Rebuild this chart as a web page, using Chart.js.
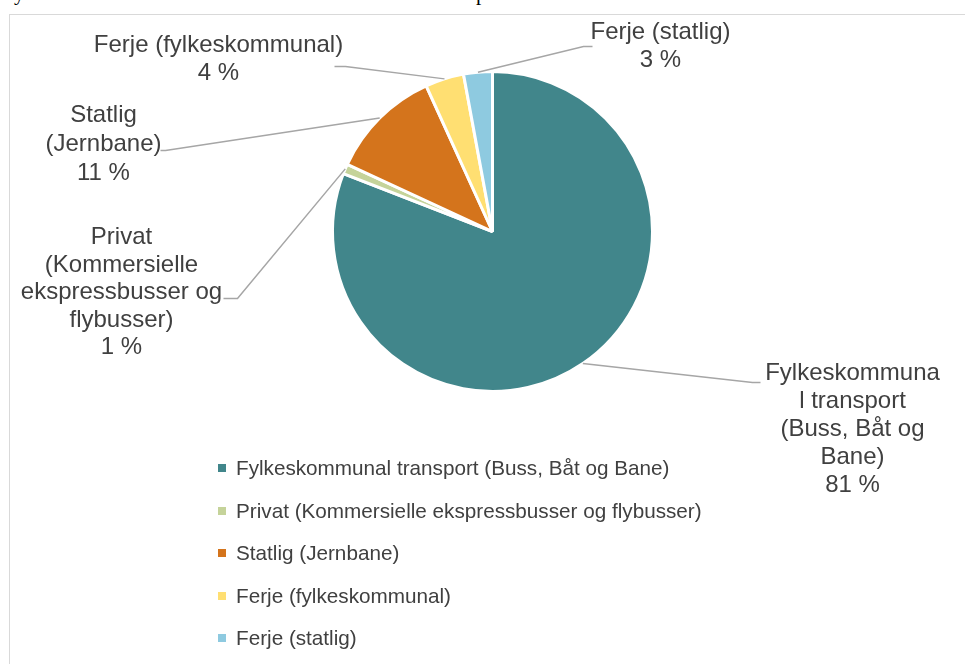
<!DOCTYPE html>
<html>
<head>
<meta charset="utf-8">
<script src="https://cdn.jsdelivr.net/npm/chart.js@4"></script>
<style>
  body { margin: 0; background: #fff; font-family: "Liberation Sans", Arial, sans-serif; overflow: hidden; }
  .frag { position: absolute; top: -17px; font: 21px/20px "Liberation Serif", "Times New Roman", serif; color: #000; }
  #frame { position: absolute; left: 9px; top: 14px; width: 1000px; height: 700px; border: 1px solid #d9d9d9; }
  #pie { position: absolute; left: 0; top: 0; }
  #legend { position: absolute; left: 218px; top: 453px; color: #404040; font-size: 20.7px; }
  #legend div { height: 42.5px; line-height: 30px; white-space: nowrap; }
  #legend span.box { display: inline-block; width: 8px; height: 8px; margin-right: 10px; vertical-align: 3px; }
</style>
</head>
<body>
<div class="frag" style="left:14px">y</div>
<div class="frag" style="left:476px">p</div>
<div id="frame"></div>
<canvas id="pie" width="965" height="664"></canvas>
<div id="legend"></div>
<script>
// kategorier og andeler (prosent)
var categories = [
    'Fylkeskommunal transport (Buss, Båt og Bane)',
    'Privat (Kommersielle ekspressbusser og flybusser)',
    'Statlig (Jernbane)',
    'Ferje (fylkeskommunal)',
    'Ferje (statlig)'
];
var shares = [80.9, 1.0, 11.3, 3.9, 2.9];
var colors = ['#41868b', '#c5d39a', '#d4741c', '#ffdf72', '#8ecae0'];

// teksten på etikettene, brutt som i originalen
var labelText = [
    ['Fylkeskommuna', 'l transport', '(Buss, Båt og', 'Bane)'],
    ['Privat', '(Kommersielle', 'ekspressbusser og', 'flybusser)'],
    ['Statlig', '(Jernbane)'],
    ['Ferje (fylkeskommunal)'],
    ['Ferje (statlig)']
];

// plassering av etiketter i forhold til sentrum: knekkpunkt, linjeslutt, tekst
var labelLayout = [
    { ex: 260, ey: 151, hx: 268, tx: 360, ty: 142, lh: 28 },
    { ex: -255, ey: 67, hx: -269, tx: -371, ty: 6, lh: 27.5 },
    { ex: -327, ey: -81, hx: -332, tx: -389, ty: -116, lh: 29 },
    { ex: -147, ey: -165, hx: -158, tx: -274, ty: -186, lh: 28 },
    { ex: 91, ey: -185, hx: 100, tx: 168, ty: -199, lh: 28 }
];

var total = shares.reduce(function (a, b) { return a + b; }, 0);

var dataLabels = {
    id: 'dataLabels',
    afterDraw: function (chart) {
        var ctx = chart.ctx;
        var arcs = chart.getDatasetMeta(0).data;
        ctx.save();
        arcs.forEach(function (arc, i) {
            var p = arc.getProps(['x', 'y', 'startAngle', 'endAngle', 'outerRadius']);
            var mid = (p.startAngle + p.endAngle) / 2;
            var lay = labelLayout[i];
            ctx.strokeStyle = '#a6a6a6';
            ctx.lineWidth = 1.5;
            ctx.beginPath();
            ctx.moveTo(p.x + Math.cos(mid) * p.outerRadius, p.y + Math.sin(mid) * p.outerRadius);
            ctx.lineTo(p.x + lay.ex, p.y + lay.ey);
            ctx.lineTo(p.x + lay.hx, p.y + lay.ey);
            ctx.stroke();

            var lines = labelText[i].concat([Math.round(shares[i] / total * 100) + ' %']);
            ctx.fillStyle = '#404040';
            ctx.font = '24px "Liberation Sans", Arial, sans-serif';
            ctx.textAlign = 'center';
            ctx.textBaseline = 'middle';
            lines.forEach(function (t, j) {
                ctx.fillText(t, p.x + lay.tx, p.y + lay.ty + j * lay.lh);
            });
        });
        ctx.restore();
    }
};

var chart = new Chart(document.getElementById('pie').getContext('2d'), {
    type: 'pie',
    data: {
        labels: categories,
        datasets: [{
            data: shares,
            backgroundColor: colors,
            borderColor: '#ffffff',
            borderWidth: 3
        }]
    },
    options: {
        responsive: false,
        animation: false,
        devicePixelRatio: 1,
        layout: { padding: { left: 331, right: 311, top: 70, bottom: 271 } },
        plugins: {
            legend: { display: false },
            tooltip: { enabled: false }
        }
    },
    plugins: [dataLabels]
});

// legende bygd fra de samme listene
var legend = document.getElementById('legend');
categories.forEach(function (c, i) {
    var row = document.createElement('div');
    var box = document.createElement('span');
    box.className = 'box';
    box.style.background = colors[i];
    row.appendChild(box);
    row.appendChild(document.createTextNode(c));
    legend.appendChild(row);
});
</script>
</body>
</html>
